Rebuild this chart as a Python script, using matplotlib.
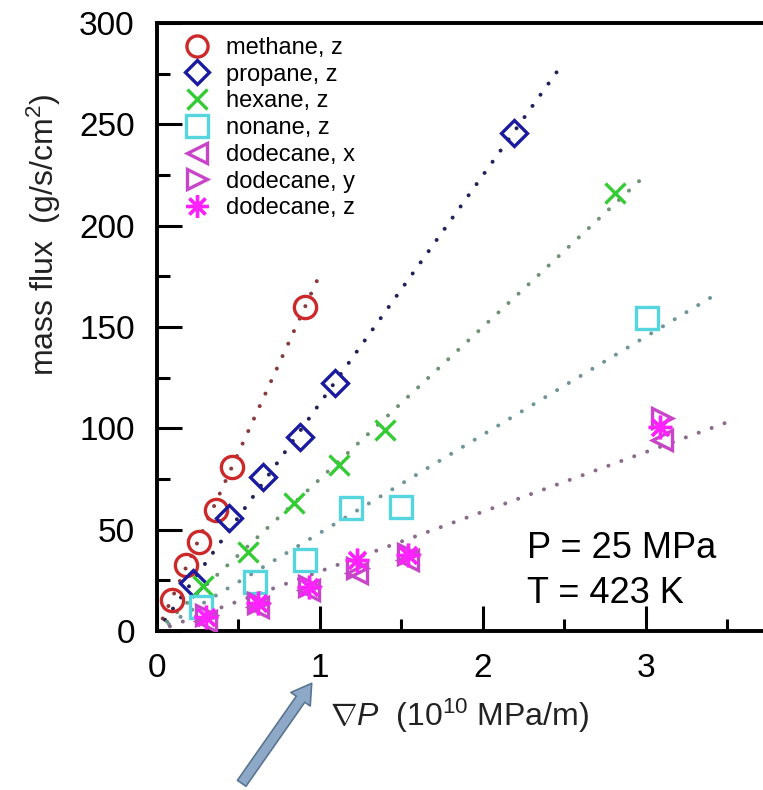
import matplotlib
matplotlib.use("Agg")
import matplotlib.pyplot as plt
from matplotlib.patches import FancyArrowPatch
from matplotlib.ticker import MultipleLocator

plt.rcParams["font.family"] = ["Liberation Sans", "DejaVu Sans"]
plt.rcParams["mathtext.fontset"] = "custom"
plt.rcParams["mathtext.rm"] = "Liberation Sans"
plt.rcParams["mathtext.it"] = "Liberation Sans:italic"

# pressure gradient (1e10 MPa/m) and mass flux (g/s/cm^2)
methane_x = [0.09, 0.18, 0.26, 0.36, 0.46, 0.91]
methane_y = [15.3, 32.6, 44.1, 59.7, 81.1, 160.0]
propane_x = [0.22, 0.44, 0.65, 0.88, 1.09, 2.19]
propane_y = [23.5, 55.6, 76.1, 95.9, 122.2, 245.5]
hexane_x = [0.28, 0.56, 0.84, 1.12, 1.40, 2.81]
hexane_y = [22.0, 39.1, 63.0, 81.9, 99.2, 216.0]
nonane_x = [0.27, 0.60, 0.91, 1.19, 1.50, 3.01]
nonane_y = [12.0, 24.0, 35.0, 60.5, 61.3, 154.4]
dodec_x_x = [0.30, 0.62, 0.93, 1.23, 1.54, 3.10]
dodec_x_y = [5.0, 12.0, 20.0, 28.5, 35.0, 94.0]
dodec_y_x = [0.30, 0.62, 0.93, 1.23, 1.54, 3.10]
dodec_y_y = [8.0, 14.0, 22.0, 31.0, 38.0, 105.0]
dodec_z_x = [0.30, 0.62, 0.93, 1.23, 1.54, 3.09]
dodec_z_y = [7.0, 13.7, 21.9, 35.0, 37.5, 100.8]

# linear fits drawn from the origin to these end points
fit_end_x = [1.00, 2.50, 3.00, 3.45, 3.50]
fit_end_y = [176.0, 281.0, 225.0, 167.0, 103.0]
fit_colors = ["#8a3a3a", "#22225a", "#6f9275", "#6f9598", "#8c6a8c"]

series = [
    ("methane, z", methane_x, methane_y, "o", "#cc2a2a", 16),
    ("propane, z", propane_x, propane_y, "D", "#1a1aa0", 13),
    ("hexane, z", hexane_x, hexane_y, "x", "#33cc33", 15),
    ("nonane, z", nonane_x, nonane_y, "s", "#55d5dd", 16),
    ("dodecane, x", dodec_x_x, dodec_x_y, "<", "#c844c8", 15),
    ("dodecane, y", dodec_y_x, dodec_y_y, ">", "#c844c8", 15),
    ("dodecane, z", dodec_z_x, dodec_z_y, (8, 2, 0), "#ff22ff", 17),
]

W, H = 763, 790
fig = plt.figure(figsize=(W / 100, H / 100), dpi=100)
ax = fig.add_axes([157 / W, 159 / H, 606 / W, 608 / H])

for xe, ye, c in zip(fit_end_x, fit_end_y, fit_colors):
    ax.plot([0, xe], [0, ye], color=c, lw=2.9, linestyle=(0, (0.01, 3.4)),
            dash_capstyle="round", zorder=2)

for label, x, y, m, c, ms in series:
    ax.plot(x, y, linestyle="none", marker=m, ms=ms, mfc="none", mec=c,
            mew=2.4, label=label, zorder=3)

ax.set_xlim(0, 3.72)
ax.set_ylim(0, 300)
ax.xaxis.set_major_locator(MultipleLocator(1))
ax.xaxis.set_minor_locator(MultipleLocator(0.5))
ax.yaxis.set_major_locator(MultipleLocator(50))
ax.yaxis.set_minor_locator(MultipleLocator(25))
ax.tick_params(which="both", direction="in", top=False, right=False, width=2.2,
               labelsize=24, pad=16)
ax.tick_params(which="major", length=18)
ax.tick_params(which="minor", length=9)
for s in ["left", "bottom", "top"]:
    ax.spines[s].set_linewidth(2.8)
ax.spines["right"].set_visible(False)

ax.set_xlabel(r"$\nabla P$  (10$^{10}$ MPa/m)", fontsize=23, color="#222222")
ax.set_ylabel(r"mass flux  (g/s/cm$^2$)", fontsize=23, color="#222222")
ax.xaxis.set_label_coords(0.5, -0.108)
ax.yaxis.set_label_coords(-0.155, 0.651)

ax.text(2.27, 36, "P = 25 MPa", fontsize=26, va="baseline")
ax.text(2.27, 13.8, "T = 423 K", fontsize=26, va="baseline")

ax.legend(loc="upper left", bbox_to_anchor=(0.047, 0.977), frameon=False,
          fontsize=17, handlelength=1.0, handletextpad=0.7, labelspacing=0.2,
          borderpad=0, borderaxespad=0, markerscale=0.95)

arrow = FancyArrowPatch((241.7 / W, 1 - 783.3 / H), (311.7 / W, 1 - 683.3 / H),
                        transform=fig.transFigure,
                        arrowstyle="simple,head_length=1.4,head_width=1.7,tail_width=0.75",
                        mutation_scale=10, fc="#8ea9c8", ec="#5b7591", lw=1.2,
                        shrinkA=0, shrinkB=0)
fig.patches.append(arrow)

fig.savefig("out.png", dpi=100)
